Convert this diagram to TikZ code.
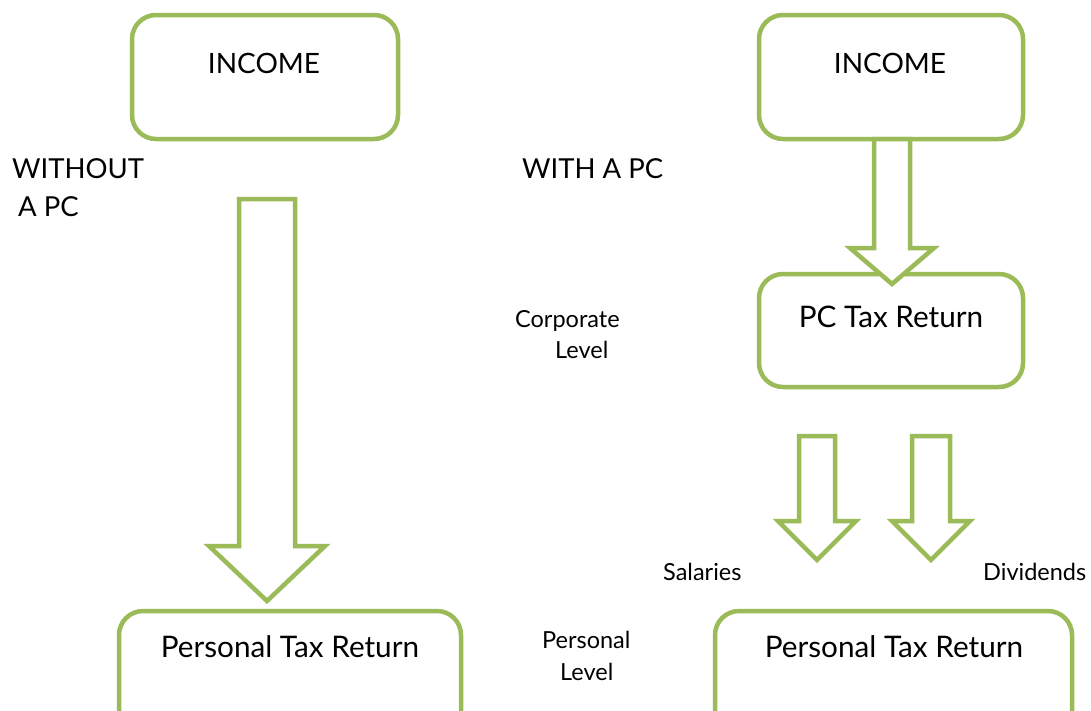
\documentclass[tikz,border=0pt]{standalone}
\usepackage{fontspec}
\setmainfont{Lato}
\usepackage{xcolor}
\usepackage{tikz}
\definecolor{taxgreen}{RGB}{155, 187, 89}

\tikzset{
	taxbox/.style = {draw = taxgreen, line width = 4.5pt, rounded corners = 24pt, fill = white},
	blockarrow/.style = {draw = taxgreen, line width = 4.5pt, fill = white, line join = miter},
	boxtext/.style = {font = \fontsize{29.7}{32}\selectfont, anchor = base, inner sep = 0pt},
	capstext/.style = {font = \fontsize{28}{32}\selectfont, anchor = base, inner sep = 0pt},
	headtext/.style = {font = \fontsize{27.5}{32}\selectfont, anchor = base west, inner sep = 0pt},
	sidetext/.style = {font = \fontsize{23.5}{26}\selectfont, anchor = base west, inner sep = 0pt}
}

\begin{document}
\begin{tikzpicture}[x = 1pt, y = -1pt]
	\clip (0,0) rectangle (1091,710);
	% boxes
	\node (incL) at (265,77) [taxbox, minimum width = 266pt, minimum height = 124pt] {};
	\node (incR) at (891,77) [taxbox, minimum width = 264pt, minimum height = 124pt] {};
	\node (pcR) at (891,330.5) [taxbox, minimum width = 264pt, minimum height = 113pt] {};
	\node (ptrL) at (290,691) [taxbox, minimum width = 342pt, minimum height = 160pt] {};
	\node (ptrR) at (893.5,691) [taxbox, minimum width = 357pt, minimum height = 160pt] {};
	% block arrows
	\draw[blockarrow] (239,199) -- (295,199) -- (295,546) -- (325,546) -- (267,601)
		-- (209,546) -- (239,546) -- cycle;
	\draw[blockarrow] (874,139) -- (910,139) -- (910,248) -- (934,248) -- (892,284)
		-- (850,248) -- (874,248) -- cycle;
	\draw[blockarrow] (799,436) -- (835,436) -- (835,521) -- (856,521) -- (817,560)
		-- (778,521) -- (799,521) -- cycle;
	\draw[blockarrow] (912,436) -- (950,436) -- (950,521) -- (970,521) -- (931,560)
		-- (892,521) -- (912,521) -- cycle;
	% box texts
	\node (incLtext) at (264,73) [capstext] {INCOME};
	\node (incRtext) at (890,73) [capstext] {INCOME};
	\node (pcRtext) at (891,327) [boxtext] {PC Tax Return};
	\node (ptrLtext) at (290,657) [boxtext] {Personal Tax Return};
	\node (ptrRtext) at (894,657) [boxtext] {Personal Tax Return};
	% side labels
	\node (without) at (12,178) [headtext] {WITHOUT};
	\node (withoutpc) at (18,216) [headtext] {A PC};
	\node (with) at (522,178) [headtext] {WITH A PC};
	\node (corp) at (515,327) [sidetext] {Corporate};
	\node (corplevel) at (555,358) [sidetext] {Level};
	\node (pers) at (542,648) [sidetext] {Personal};
	\node (perslevel) at (560,680) [sidetext] {Level};
	\node (salaries) at (663,580) [sidetext] {Salaries};
	\node (dividends) at (983,580) [sidetext] {Dividends};
\end{tikzpicture}
\end{document}
